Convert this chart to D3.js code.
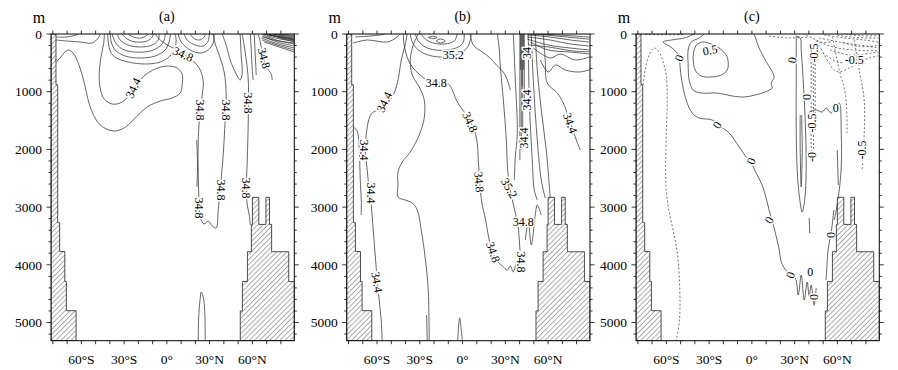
<!DOCTYPE html>
<meta charset="UTF-8">

<head>
    <title>Salinity sections</title>
</head>
<style>
    body {
        margin: 0;
        background: #fff;
    }

    text {
        font-family: "Liberation Serif", "Times New Roman", serif;
        fill: #000;
    }
</style>

<body>
    <svg id="chart" width="898" height="370"></svg>

    <script src="https://d3js.org/d3.v7.min.js"></script>
    <script>
        // axis values
        const latTicks = [-60, -30, 0, 30, 60];
        const latTickLabels = ["60°S", "30°S", "0°", "30°N", "60°N"];
        const depthTicks = [0, 1000, 2000, 3000, 4000, 5000];
        const panelTitles = ["(a)", "(b)", "(c)"];
        const latDomain = [-81.3, 89.4];
        const depthMax = 5315;

        // land: [depth of band top, coast latitude] on the Antarctic side
        const leftCoast = [[0, -77.8], [880, -76.6], [3270, -75.2], [3770, -71.6], [4290, -70.5], [4795, -63.7]];
        // land: [latitude where step starts, sea floor depth] on the Arctic side
        const rightFloor = [[51.5, 4800], [53, 4290], [56.5, 3773], [59.3, 3300], [60, 2830], [64.5, 3300],
        [69.5, 2830], [72, 3300], [73.5, 3773], [85.5, 4290]];

        // ---------- panel (a) contours: [lat, depth] ----------
        const aTongue = [[-77.7, 485], [-74.9, 416], [-72.1, 329], [-69.3, 277], [-65.8, 329], [-62.2, 503], [-59.4, 711],
        [-57.3, 918], [-55.2, 1144], [-52.4, 1352], [-46.8, 1577], [-37.7, 1681], [-31.4, 1646], [-27.2, 1577],
        [-21.5, 1438], [-13.8, 1265], [-4.7, 1161], [3.7, 1109], [9.3, 1023], [10.7, 884], [10.7, 693], [7.2, 589],
        [0.2, 555], [-8.2, 607], [-15.2, 711], [-20.1, 832], [-25.8, 1057], [-32.8, 1196], [-38.4, 1213],
        [-44.0, 1126], [-46.5, 970], [-47.5, 797], [-47.2, 589], [-46, 364], [-44.5, 191], [-43.8, 0]];
        const aSurfLeft1 = [[-77.7, 104], [-70.7, 121], [-60.8, 139], [-52.4, 156], [-48.2, 69], [-46.8, 0]];
        const aSurfLeft2 = [[-77.7, 52], [-70.7, 52], [-63.6, 17], [-62.2, 0]];
        const aS0 = [[-41.5, 0], [-41.2, 121], [-39.5, 312], [-35.3, 416], [-27.2, 485], [-15.2, 520], [-4.7, 485],
        [2.3, 381], [5.8, 225], [6.5, 104], [5.8, 0]];
        const aS1 = [[-39.8, 0], [-39.0, 139], [-36.3, 277], [-29.3, 381], [-18.7, 416], [-8.2, 381], [-1.2, 277], [1.5, 139], [2.5, 0]];
        const aS2 = [[-38.4, 0], [-36.3, 139], [-31.4, 260], [-22.3, 312], [-11.7, 295], [-4.7, 208], [-1.9, 104], [-1.2, 0]];
        const aS3 = [[-34.9, 0], [-32.8, 104], [-27.2, 191], [-18.7, 225], [-10.3, 191], [-6.1, 104], [-5.4, 0]];
        const aS4 = [[-31.4, 0], [-27.9, 87], [-21.5, 139], [-13.8, 121], [-10.3, 52], [-9.6, 0]];
        const aS5 = [[-27.2, 0], [-23.7, 52], [-18, 69], [-13.8, 17], [-13.1, 0]];
        const aU348 = [[-8.2, 0], [-4.7, 104], [0.2, 191], [5.8, 260], [11.4, 347], [18.5, 468], [23.4, 624], [25.5, 832],
        [24.8, 1057], [23.4, 1317], [22, 1837], [22, 2444], [22.7, 2963], [23.4, 3189], [26.2, 3293], [29, 3241],
        [31.8, 3327], [34.6, 3362], [36, 3050], [37.4, 2703], [39.5, 2097], [40.9, 1490], [41.6, 1057], [40.2, 659],
        [36.7, 364], [33.9, 173], [32.5, 0]];
        const aN1 = [[7.9, 0], [10, 139], [16.4, 277], [23.4, 329], [29, 277], [32.5, 156], [33.2, 0]];
        const aN2 = [[12.1, 0], [14.2, 104], [19.9, 191], [25.5, 208], [29, 121], [29.7, 0]];
        const aN3 = [[16.4, 0], [18.5, 69], [22.7, 104], [26.2, 52], [26.9, 0]];
        const aNA1 = [[38.8, 0], [41.6, 191], [44.4, 451], [48.6, 693], [51.4, 797], [52.8, 693], [52.1, 364], [51.4, 0]];
        const aV3 = [[52.8, 0], [54.2, 191], [55.7, 451], [57.1, 797], [57.1, 1490], [56.4, 2184], [55.7, 2703],
        [56.4, 2963], [57.8, 3137], [58.5, 3310]];
        const aV4 = [[64.1, 0], [65.5, 139], [67.6, 399], [70.4, 589], [73.2, 693], [73.9, 797]];
        const aV5 = [[58.5, 0], [59.2, 277], [59.9, 624], [60.6, 797]];
        const aV6 = [[61.3, 0], [62, 364], [62.7, 711]];
        const aLens = [[20.9, 1837], [21.5, 2270], [21.1, 2651]];
        const aBottom = [[22, 5315], [22.3, 4922], [23.4, 4575], [24.1, 4471], [25.5, 4558], [26.5, 4783], [26.9, 5315]];
        const aW1 = [[66.9, 0], [76, 35], [89.4, 69]];
        const aW2 = [[69, 0], [78.1, 52], [89.4, 104]];
        const aW3 = [[71.1, 0], [79.5, 69], [89.4, 139]];
        const aW4 = [[67.6, 17], [76.7, 104], [89.4, 173]];
        const aW5 = [[66.9, 35], [77.4, 139], [89.4, 208]];
        const aW6 = [[66.2, 69], [78.1, 173], [89.4, 243]];
        const aW7 = [[66.9, 104], [79.5, 208], [89.4, 277]];
        const aW8 = [[68.3, 139], [81, 243], [89.4, 312]];
        const aW9 = [[74, 0], [82, 30], [89.4, 50]];
        const aW10 = [[78, 0], [84, 25], [89.4, 35]];
        const aW11 = [[72, 10], [80, 50], [89.4, 85]];
        const aW12 = [[70, 25], [80, 90], [89.4, 120]];
        const aW13 = [[75, 0], [82, 45], [89.4, 95]];
        const aW14 = [[67, 50], [78, 120], [89.4, 155]];
        const aW15 = [[80, 0], [86, 15], [89.4, 20]];
        const aW16 = [[73, 15], [81, 70], [89.4, 110]];

        const labelsA = [["34.4", -23.7, 936, -65], ["34.8", 11.4, 347, 25], ["34.8", 23.4, 1317, 90],
        ["34.8", 23, 3015, 90], ["34.8", 38.1, 2703, 90], ["34.8", 41.6, 1317, 90], ["34.8", 57.1, 1196, 90],
        ["34.8", 55.7, 2669, 90], ["34.8", 68.3, 416, 75]];

        // ---------- panel (b) contours ----------
        const bB1 = [[-38.9, 0], [-40.3, 191], [-43, 451], [-45.3, 797], [-48.6, 1057], [-53.5, 1213], [-59.9, 1317],
        [-64.1, 1386], [-66.2, 1525], [-67.6, 1750], [-68.3, 2010], [-66.9, 2357], [-65.5, 2703], [-64.1, 2963],
        [-62.7, 3397], [-61.3, 3830], [-59.9, 4263], [-58.5, 4610], [-57.1, 4956], [-56.4, 5315]];
        const bB0 = [[-76.7, 1612], [-74, 1681], [-72.5, 2010], [-71.8, 2530], [-71.1, 2877], [-71.1, 3137]];
        const bB2 = [[-31.1, 0], [-34.6, 191], [-36.7, 451], [-35.3, 711], [-30.4, 918], [-26.9, 1144], [-26.9, 1456],
        [-30.4, 1750], [-36.7, 2045], [-42.3, 2218], [-45.3, 2392], [-45.3, 2617], [-45.3, 2825], [-40.3, 2877],
        [-35.3, 2929], [-31.8, 3050], [-29, 3397], [-26.2, 3882], [-24.1, 4437], [-23.4, 5315]];
        const bB2b = [[-25.2, 4870], [-24.8, 5315]];
        const bSpike = [[-3.4, 5315], [-2.7, 5043], [-2, 4922], [-0.9, 5130], [-0.2, 5315]];
        const bB3 = [[-41.6, 0], [-41, 191], [-38.9, 399], [-35.3, 572], [-29.7, 711], [-22.7, 832], [-15.7, 849],
        [-10, 867], [-7.2, 970], [-4.4, 1144], [-0.9, 1282], [2.6, 1404], [5.4, 1525], [8.2, 1664], [10.3, 1889],
        [11, 2184], [11.7, 2444], [12.4, 2703], [13.8, 2963], [15.9, 3189], [18, 3483], [20.1, 3709], [23.7, 3917],
        [27.9, 4020], [31.4, 4090], [33.5, 4020], [35.6, 4124], [37.7, 3986], [39.8, 4090], [41.9, 4055]];
        const bS1 = [[-36.7, 0], [-35.3, 139], [-31.1, 277], [-24.1, 364], [-15.7, 399], [-7.2, 381], [-0.2, 312],
        [4, 208], [5.4, 104], [6.1, 0]];
        const bS2 = [[-33.2, 0], [-31.1, 121], [-26.2, 225], [-19.2, 277], [-10.8, 277], [-3, 225], [0.5, 139], [1.2, 0]];
        const bS3 = [[-29, 0], [-26.2, 87], [-20.6, 156], [-12.2, 173], [-5.8, 121], [-3.7, 0]];
        const bS4 = [[-18.5, 121], [-15.7, 87], [-12.2, 121], [-15.7, 156], [-18.5, 121]];
        const bS5 = [[-24, 60], [-21, 40], [-18, 60], [-21, 80], [-24, 60]];
        const bWall1 = [[-76.7, 156], [-66.9, 104], [-52.8, 139], [-45.9, 52], [-43.7, 0]];
        const bWall2 = [[-75.3, 52], [-64.8, 35], [-57.8, 17], [-54.2, 0]];
        const bB5 = [[24.4, 0], [25.8, 277], [26.5, 572], [28.6, 1144], [30.7, 1837], [31.4, 2270], [32.8, 2617],
        [34.9, 2877], [37, 3102], [38.4, 3258], [39.1, 3362], [39.8, 3570], [40.5, 3830], [41.2, 4003]];
        const bB6 = [[5.4, 0], [7.5, 191], [13.8, 312], [19.4, 416], [23.7, 537], [28.6, 659], [31.4, 797], [33.5, 970]];
        const bB7 = [[35.6, 0], [37, 797], [38.4, 1716], [37, 2132], [36.3, 2530]];
        const bBar1 = [[40.2, 0], [40.2, 2184]];
        const bBar2 = [[41.2, 0], [41.2, 2010]];
        const bBar3 = [[42.2, 0], [42.2, 1664]];
        const bBar4 = [[43.3, 0], [43.3, 1144]];
        const bBar5 = [[40.7, 0], [40.7, 620]];
        const bBar6 = [[42.7, 0], [42.7, 620]];
        const bBar7 = [[41.7, 0], [41.7, 900]];
        const bR1 = [[56.6, 0], [58, 451], [59.4, 849], [66.5, 1023], [70.7, 1196], [74.9, 1490], [79.8, 1837], [82.6, 2010]];
        const bR2 = [[51, 0], [52.4, 624], [55.2, 1317], [58.7, 2010], [60.8, 2617], [61.5, 2842]];
        const bR3 = [[48.2, 0], [49.6, 797], [52.4, 1837], [55.2, 2530], [58, 2842]];
        const bR4 = [[46.1, 0], [46.8, 1144], [48.9, 2184], [50.3, 2703], [52.4, 2877]];
        const bZig = [[44, 3570], [46.1, 3258], [48.2, 3657], [51, 3137], [52.4, 2963], [55.2, 3137]];
        const bW1 = [[45.4, 17], [61.5, 52], [75.6, 104], [88.9, 139]];
        const bW2 = [[45.4, 52], [61.5, 104], [75.6, 173], [88.9, 208]];
        const bW3 = [[45.4, 87], [60.1, 191], [75.6, 243], [88.9, 277]];
        const bW4 = [[47.5, 139], [60.1, 277], [75.6, 312], [88.9, 347]];
        const bW5 = [[49.6, 243], [61.5, 416], [68.6, 347], [79.1, 451], [88.9, 399]];
        const bW6 = [[54.5, 451], [60.1, 659], [65.1, 537], [72.1, 624], [81.2, 659], [88.9, 624]];
        const bW7 = [[46, 0], [62, 25], [76, 60], [88.9, 90]];
        const bW8 = [[52, 0], [66, 15], [78, 35], [88.9, 55]];
        const bW9 = [[46, 190], [62, 230], [76, 290], [88.9, 310]];

        const labelsB = [["34.4", -55, 1178, -65], ["34.4", -69, 2010, 90], ["34.4", -64.1, 2755, 90],
        ["34.4", -59.9, 4298, 80], ["35.2", -6.5, 364, 0], ["34.8", -18.5, 849, 0], ["34.8", 5.4, 1525, 65],
        ["34.8", 11.7, 2565, 85], ["34.8", 21.5, 3778, 70], ["35.2", 32.8, 2669, 60], ["34.8", 42.6, 3258, 0],
        ["34.8", 41.2, 3951, 90], ["34", 45.4, 329, -90], ["34.4", 45.4, 1144, -90], ["34.4", 43.3, 1802, -90],
        ["34.4", 75.6, 1542, 70]];

        // ---------- panel (c) contours ----------
        const cDashLeft = [[-76.3, 884], [-74.9, 624], [-72.1, 364], [-68.6, 243], [-65.1, 312], [-62.3, 485],
        [-60.1, 711], [-59.4, 1144], [-60.1, 1750], [-60.5, 2357], [-60.1, 2703], [-58, 3085], [-54.5, 3483],
        [-52.4, 3778], [-51, 4176], [-50.7, 4922], [-53.1, 5315]];
        const cZero = [[-40.5, 0], [-47.5, 69], [-56.6, 104], [-62.3, 139], [-58, 208], [-53.1, 312], [-51, 451],
        [-49.6, 745], [-46.1, 1144], [-41.9, 1369], [-37, 1456], [-27.9, 1490], [-21.5, 1612], [-15.9, 1716],
        [-8.9, 1958], [-4, 2132], [-0.5, 2236], [3, 2409], [7.2, 2617], [10, 2842], [12.1, 3050], [15.6, 3362],
        [19.2, 3743], [20.6, 3951], [24.8, 4124], [30.4, 4228], [32.5, 4523], [34.6, 4176], [36.7, 4610],
        [38.8, 4298], [40.2, 4540], [41.6, 4350], [43.7, 4700], [45.1, 4400]];
        const cHalf = [[-39.1, 191], [-34.9, 139], [-28.6, 173], [-23, 243], [-18, 364], [-16.6, 485], [-17.3, 624],
        [-21.5, 711], [-28.6, 745], [-35.6, 728], [-39.8, 624], [-41.2, 416], [-40.5, 277], [-39.1, 191]];
        const cLoop = [[-33.5, 0], [-37, 69], [-42.6, 139], [-44.7, 277], [-44.7, 537], [-44, 797], [-41.2, 970],
        [-35.6, 1023], [-24.3, 1023], [-13.8, 1074], [-5.4, 1092], [2.3, 1057], [9.3, 1005], [14.2, 936],
        [13.5, 850], [15.6, 745], [12.8, 589], [10.5, 500], [8.6, 416], [5.1, 243], [3, 104], [1.6, 0]];
        const cR1 = [[31.1, 35], [31.1, 797], [31.1, 1664], [31.8, 2357], [33.2, 2790], [35.3, 3085], [37.4, 2790],
        [38.1, 2184], [37.4, 1490], [36, 797], [34.6, 277], [33.9, 69], [31.1, 35]];
        const cR2 = [[33.9, 1404], [33.9, 2010], [34.6, 2651], [35.3, 2010], [34.9, 1404]];
        const cR3 = [[40.2, 3189], [40.6, 3449]];
        const cR4 = [[40.2, 1352], [45.1, 1317], [49.3, 1352], [52.1, 1282], [55.5, 1369], [59.2, 1248], [61.3, 1196],
        [62.7, 1716], [62.7, 2305], [61.3, 2703], [59.2, 3050], [57.8, 3223]];
        const cR5 = [[59.9, 2010], [60.6, 2617]];
        const cR6 = [[52.1, 4263], [53.5, 3743], [55.7, 3431], [57.5, 3050]];
        const cD1 = [[41.6, 277], [41.6, 2184]];
        const cD2 = [[43, 364], [43.3, 2010]];
        const cD3 = [[44.4, 451], [44.4, 1664]];
        const cD4 = [[56.5, 50], [61.3, 624], [65.8, 1074], [66.8, 1716]];
        const cD5 = [[71.8, 104], [75.3, 624], [78.8, 1144], [78.8, 1750], [77.4, 2357]];
        const cD6 = [[47.2, 191], [52.8, 451], [57.8, 624], [61.3, 659], [68.3, 589], [75.3, 485], [82.3, 416], [88.6, 381]];
        const cD7 = [[12.1, 35], [26.2, 69], [40.2, 52]];
        const cD8 = [[47.2, 69], [61.3, 139], [75.3, 191], [88.6, 243]];
        const cD9 = [[51, 17], [64.8, 69], [78.8, 104], [88.6, 139]];
        const cD10 = [[54.9, 277], [68.9, 364], [88.6, 312]];
        const cD11 = [[45, 120], [58, 230], [72, 280], [88.6, 290]];
        const cD12 = [[-75, 10], [-60, 12], [-48, 8]];
        const cD13 = [[60, 20], [72, 60], [88.6, 70]];
        const cD14 = [[64, 150], [76, 220], [88.6, 200]];
        const cD15 = [[50, 330], [62, 500], [70, 420], [80, 520]];
        const cD16 = [[66, 0], [76, 30], [88.6, 30]];
        const cD17 = [[38, 20], [44, 90], [50, 150], [56, 130]];

        const labelsC = [["0", -51, 416, -70], ["0.5", -29.3, 277, -10], ["0", -24.4, 1577, -60], ["0", -0.5, 2201, -70],
        ["0", 12.1, 3223, -60], ["0", 26.9, 4176, -70], ["0", 40.9, 4124, 0], ["0", 43.7, 4558, -90],
        ["0", 55.4, 3483, -90], ["0", 28.3, 451, -80], ["0", 38.8, 1092, -90], ["0", 58.9, 1282, 0],
        ["-0.5", 43.7, 329, -90], ["-0.5", 42.3, 1542, -90], ["-0", 42.3, 2132, -90], ["-0.5", 71.8, 451, 0],
        ["-0.5", 77.4, 2010, -90]];

        const panels = [
            {
                solid: [aTongue, aSurfLeft1, aSurfLeft2, aS0, aS1, aS2, aS3, aS4, aS5, aU348, aN1, aN2, aN3, aNA1, aV3,
                    aV4, aV5, aV6, aLens, aBottom, aW1, aW2, aW3, aW4, aW5, aW6, aW7, aW8, aW9, aW10, aW11, aW12,
                    aW13, aW14, aW15, aW16],
                dashed: [], labels: labelsA
            },
            {
                solid: [bB1, bB0, bB2, bB2b, bSpike, bB3, bS1, bS2, bS3, bS4, bS5, bWall1, bWall2, bB5, bB6, bB7,
                    bBar1, bBar2, bBar3, bBar4, bBar5, bBar6, bBar7, bR1, bR2, bR3, bR4, bZig, bW1, bW2, bW3, bW4,
                    bW5, bW6, bW7, bW8, bW9],
                dashed: [], labels: labelsB
            },
            {
                solid: [cZero, cHalf, cLoop, cR1, cR2, cR3, cR4, cR5, cR6],
                dashed: [cDashLeft, cD1, cD2, cD3, cD4, cD5, cD6, cD7, cD8, cD9, cD10, cD11, cD12, cD13, cD14,
                    cD15, cD16, cD17], labels: labelsC
            }
        ];

        // layout
        const panelLeft = [51, 346.7, 636];
        const plotTop = 34, w = 243.3, h = 306.7;

        const svg = d3.select("#chart");
        const defs = svg.append("defs");
        defs.append("pattern")
            .attr("id", "hatch")
            .attr("patternUnits", "userSpaceOnUse")
            .attr("width", 3.6).attr("height", 3.6)
            .attr("patternTransform", "rotate(45)")
            .append("line")
            .attr("x1", 0).attr("y1", 0).attr("x2", 0).attr("y2", 3.6)
            .attr("stroke", "#333").attr("stroke-width", 0.8);

        const x = d3.scaleLinear().domain(latDomain).range([0, w]);
        const y = d3.scaleLinear().domain([0, depthMax]).range([0, h]);
        const line = d3.line().x(d => x(d[0])).y(d => y(d[1])).curve(d3.curveCatmullRom.alpha(0.5));
        const straight = d3.line().x(d => x(d[0])).y(d => y(d[1]));

        // land outlines built from the step tables
        const leftLand = [[latDomain[0], 0]];
        leftCoast.forEach((c, i) => {
            const next = i + 1 < leftCoast.length ? leftCoast[i + 1][0] : depthMax;
            leftLand.push([c[1], c[0]], [c[1], next]);
        });
        leftLand.push([latDomain[0], depthMax]);

        const rightLand = [[rightFloor[0][0], depthMax]];
        rightFloor.forEach((f, i) => {
            const next = i + 1 < rightFloor.length ? rightFloor[i + 1][0] : latDomain[1];
            rightLand.push([f[0], f[1]], [next, f[1]]);
        });
        rightLand.push([latDomain[1], depthMax]);

        panels.forEach((p, k) => {
            const g = svg.append("g").attr("transform", `translate(${panelLeft[k]},${plotTop})`);

            defs.append("clipPath").attr("id", "clip" + k)
                .append("rect").attr("width", w).attr("height", h);
            const plot = g.append("g").attr("clip-path", `url(#clip${k})`);

            plot.selectAll("path.solid").data(p.solid).enter().append("path")
                .attr("class", "solid")
                .attr("d", line)
                .attr("fill", "none").attr("stroke", "#333").attr("stroke-width", 0.75);

            plot.selectAll("path.dash").data(p.dashed).enter().append("path")
                .attr("class", "dash")
                .attr("d", line)
                .attr("fill", "none").attr("stroke", "#444").attr("stroke-width", 0.75)
                .attr("stroke-dasharray", "2,2");

            // contour labels
            plot.selectAll("text.lab").data(p.labels).enter().append("text")
                .attr("class", "lab")
                .attr("transform", d => `translate(${x(d[1])},${y(d[2])}) rotate(${d[3]})`)
                .attr("text-anchor", "middle")
                .attr("dy", "0.35em")
                .attr("font-size", 12)
                .attr("stroke", "#fff").attr("stroke-width", 3).attr("paint-order", "stroke")
                .text(d => d[0]);

            // land
            [leftLand, rightLand].forEach(poly => {
                plot.append("path")
                    .attr("d", straight(poly) + "Z")
                    .attr("fill", "#fff");
                plot.append("path")
                    .attr("d", straight(poly) + "Z")
                    .attr("fill", "url(#hatch)")
                    .attr("stroke", "#222").attr("stroke-width", 0.8);
            });

            // frame
            g.append("rect").attr("width", w).attr("height", h)
                .attr("fill", "none").attr("stroke", "#000").attr("stroke-width", 1);

            // depth ticks on both sides
            const dMinor = d3.range(0, depthMax, 200);
            dMinor.forEach(d => {
                const len = d % 1000 === 0 ? 4.5 : 2.5;
                g.append("line").attr("x1", 0).attr("x2", -len).attr("y1", y(d)).attr("y2", y(d))
                    .attr("stroke", "#000").attr("stroke-width", 0.8);
                g.append("line").attr("x1", w).attr("x2", w + len).attr("y1", y(d)).attr("y2", y(d))
                    .attr("stroke", "#000").attr("stroke-width", 0.8);
            });
            g.selectAll("text.dl").data(depthTicks).enter().append("text")
                .attr("class", "dl")
                .attr("x", -9).attr("y", d => y(d))
                .attr("dy", "0.35em")
                .attr("text-anchor", "end")
                .attr("font-size", 13.5)
                .text(d => d);

            // latitude ticks top and bottom
            d3.range(-80, 90, 10).forEach(l => {
                g.append("line").attr("x1", x(l)).attr("x2", x(l)).attr("y1", 0).attr("y2", -3.5)
                    .attr("stroke", "#000").attr("stroke-width", 0.8);
                g.append("line").attr("x1", x(l)).attr("x2", x(l)).attr("y1", h).attr("y2", h + 3.5)
                    .attr("stroke", "#000").attr("stroke-width", 0.8);
            });
            g.selectAll("text.ll").data(latTicks).enter().append("text")
                .attr("class", "ll")
                .attr("x", d => x(d)).attr("y", h + 23.5)
                .attr("text-anchor", "middle")
                .attr("font-size", 13.5)
                .text((d, i) => latTickLabels[i]);

            g.append("text").attr("x", -12).attr("y", -11)
                .attr("text-anchor", "middle").attr("font-size", 16)
                .text("m");
            g.append("text").attr("x", x(0)).attr("y", -13)
                .attr("text-anchor", "middle").attr("font-size", 14)
                .text(panelTitles[k]);
        });
    </script>
</body>

</html>
